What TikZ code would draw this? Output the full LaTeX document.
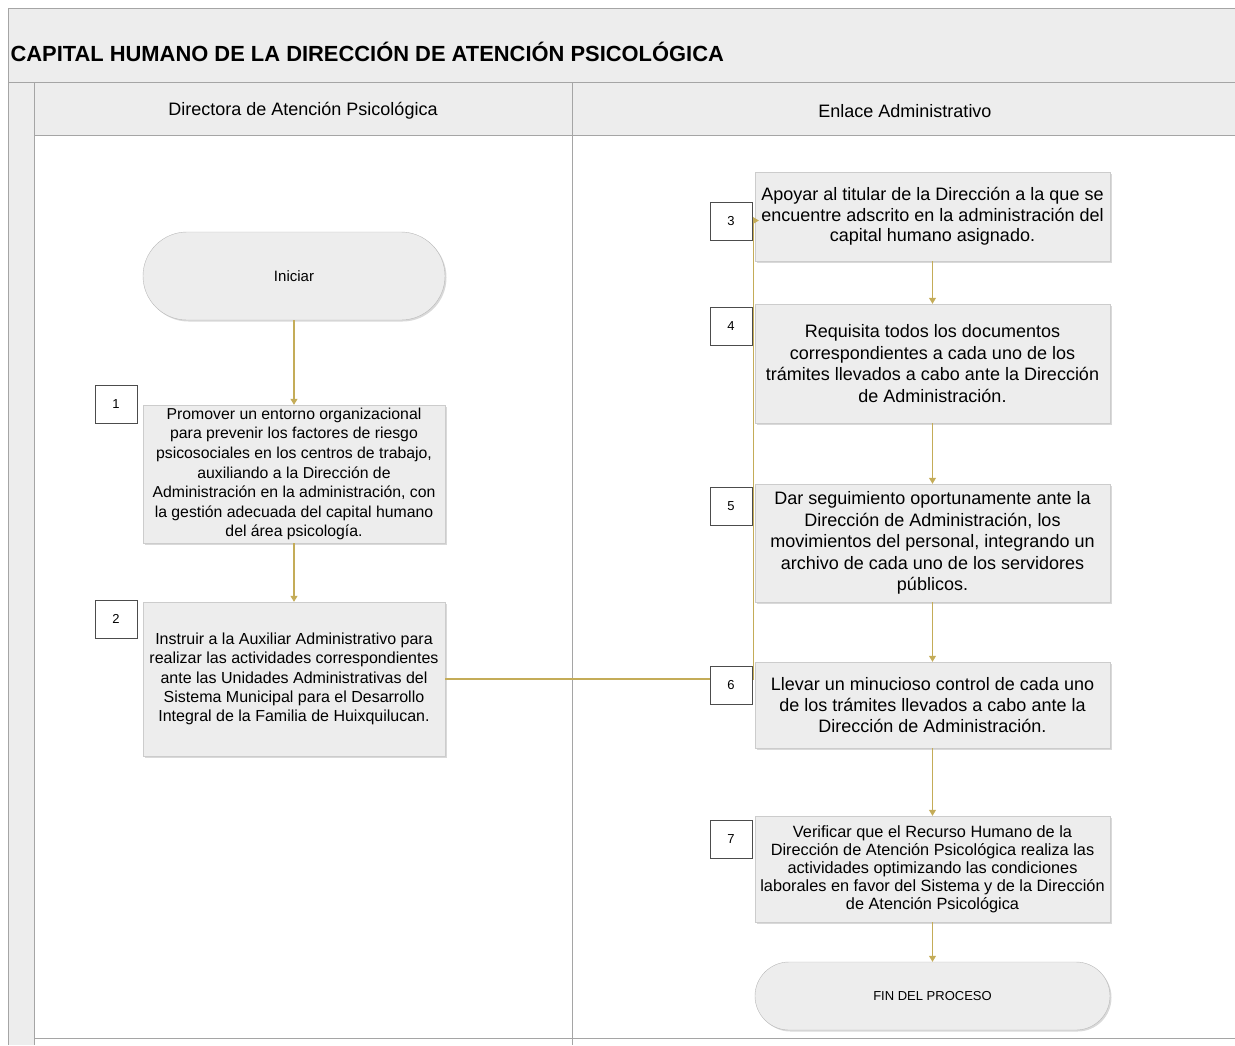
\documentclass[tikz,border=0pt]{standalone}
\usepackage{fontspec}
\setmainfont{Liberation Sans}
\usetikzlibrary{arrows.meta,shadows,positioning}

\definecolor{lanefill}{RGB}{237,237,237}
\definecolor{framegray}{RGB}{165,165,165}
\definecolor{flowline}{RGB}{196,172,88}

\tikzset{
	lanehead/.style={fill=lanefill, draw=framegray, line width=0.8pt},
	stepbox/.style={draw=gray!40, fill=lanefill, align=center, inner sep=2pt,
		drop shadow={opacity=0.3, shadow xshift=1.5pt, shadow yshift=-1.5pt}},
	terminal/.style={stepbox, rounded corners=34pt, draw=gray!55},
	numbox/.style={draw=black!70, fill=white, minimum width=42pt, minimum height=38pt,
		font=\fontsize{13}{15}\selectfont},
	flow/.style={draw=flowline, line width=1.1pt, -{Triangle[width=7pt,length=6pt]}}
}

\begin{document}
\begin{tikzpicture}[x=1pt,y=-1pt]
	\useasboundingbox (0,0) rectangle (1235,1045);

	% Pool and lanes
	\fill[lanefill] (8,8) rectangle (1240,82);
	\fill[lanefill] (8,82) rectangle (34,1045);
	\fill[lanefill] (34,82) rectangle (1240,135);
	\draw[framegray, line width=0.8pt] (1240,8) -- (8,8) -- (8,1045);
	\draw[framegray, line width=0.8pt] (8,82) -- (1240,82);
	\draw[framegray, line width=0.8pt] (34,1045) -- (34,82);
	\draw[framegray, line width=0.8pt] (34,135) -- (1240,135);
	\draw[framegray, line width=0.8pt] (34,1038) -- (1240,1038);
	\draw[framegray, line width=0.8pt] (572,82) -- (572,1045);

	\node[anchor=west, font=\bfseries\fontsize{21.9}{24}\selectfont] (title) at (7,52)
		{CAPITAL HUMANO DE LA DIRECCIÓN DE ATENCIÓN PSICOLÓGICA};
	\node[font=\fontsize{18}{20}\selectfont] (lane1) at (303,111) {Directora de Atención Psicológica};
	\node[font=\fontsize{18}{20}\selectfont] (lane2) at (905,111) {Enlace Administrativo};

	% Directora
	\node[terminal, minimum width=302pt, minimum height=88pt, rounded corners=44pt,
		font=\fontsize{15}{17}\selectfont] (start) at (294,276) {Iniciar};
	\node[stepbox, minimum width=302pt, minimum height=138pt,
		font=\fontsize{15.8}{19.6}\selectfont] (s1) at (294,474)
		{Promover un entorno organizacional\\para prevenir los factores de riesgo\\psicosociales en los centros de trabajo,\\auxiliando a la Dirección de\\Administración en la administración, con\\la gestión adecuada del capital humano\\del área psicología.};
	\node[stepbox, minimum width=302pt, minimum height=154pt,
		font=\fontsize{16}{19.4}\selectfont] (s2) at (294,679)
		{Instruir a la Auxiliar Administrativo para\\realizar las actividades correspondientes\\ante las Unidades Administrativas del\\Sistema Municipal para el Desarrollo\\Integral de la Familia de Huixquilucan.};

	% Enlace
	\node[stepbox, minimum width=355pt, minimum height=89pt,
		font=\fontsize{18}{20.5}\selectfont] (s3) at (932.5,216.5)
		{Apoyar al titular de la Dirección a la que se\\encuentre adscrito en la administración del\\capital humano asignado.};
	\node[stepbox, minimum width=355pt, minimum height=119pt,
		font=\fontsize{18}{21.5}\selectfont] (s4) at (932.5,363.5)
		{Requisita todos los documentos\\correspondientes a cada uno de los\\trámites llevados a cabo ante la Dirección\\de Administración.};
	\node[stepbox, minimum width=355pt, minimum height=118pt,
		font=\fontsize{18}{21.5}\selectfont] (s5) at (932.5,543)
		{Dar seguimiento oportunamente ante la\\Dirección de Administración, los\\movimientos del personal, integrando un\\archivo de cada uno de los servidores\\públicos.};
	\node[stepbox, minimum width=355pt, minimum height=86pt,
		font=\fontsize{18}{21}\selectfont] (s6) at (932.5,705)
		{Llevar un minucioso control de cada uno\\de los trámites llevados a cabo ante la\\Dirección de Administración.};
	\node[stepbox, minimum width=355pt, minimum height=106pt,
		font=\fontsize{16.3}{18}\selectfont] (s7) at (932.5,869)
		{Verificar que el Recurso Humano de la\\Dirección de Atención Psicológica realiza las\\actividades optimizando las condiciones\\laborales en favor del Sistema y de la Dirección\\de Atención Psicológica};
	\node[terminal, minimum width=355pt, minimum height=68pt,
		font=\fontsize{13}{15}\selectfont] (end) at (932.5,996) {FIN DEL PROCESO};

	% Connectors
	\draw[flow] (start) -- (s1);
	\draw[flow] (s1) -- (s2);
	\draw[flow] (s3) -- (s4);
	\draw[flow] (s4) -- (s5);
	\draw[flow] (s5) -- (s6);
	\draw[flow] (s6) -- (s7);
	\draw[flow] (s7) -- (end);
	\draw[flow] (s2.east) -- ++(308,0) |- ([yshift=-4pt,xshift=4pt]s3.west);

	% Step numbers
	\node[numbox] (n1) at (116,404) {1};
	\node[numbox] (n2) at (116,619) {2};
	\node[numbox] (n3) at (731,221.5) {3};
	\node[numbox] (n4) at (731,326.5) {4};
	\node[numbox] (n5) at (731,506) {5};
	\node[numbox] (n6) at (731,685.5) {6};
	\node[numbox] (n7) at (731,839) {7};
\end{tikzpicture}
\end{document}
